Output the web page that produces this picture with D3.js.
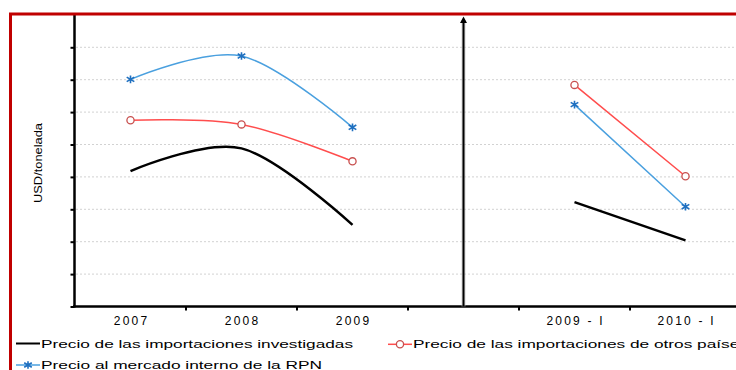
<!DOCTYPE html>
<html>
<head>
<meta charset="utf-8">
<script src="https://cdn.jsdelivr.net/npm/d3@7"></script>
<style>
html,body{margin:0;padding:0;background:#fff;overflow:hidden;}
svg{display:block;font-family:"Liberation Sans",Arial,sans-serif;}
</style>
</head>
<body>
<svg id="chart" width="736" height="370"></svg>
<script>
// ---- data ----
const categories = ["2007", "2008", "2009", "", "2009 - I", "2010 - I"];
const investigadas = [418, 488, 252, null, 322, 204];
const otrosPaises = [575, 562, 448, null, 684, 402];
const mercadoRPN = [701, 773, 553, null, 623, 308];
const yTicks = [0, 100, 200, 300, 400, 500, 600, 700, 800, 900];
const legendLabels = [
  "Precio de las importaciones investigadas",
  "Precio de las importaciones de otros países",
  "Precio al mercado interno de la RPN"
];
const yLabel = "USD/tonelada";

// ---- layout ----
const svg = d3.select("#chart");
const x = d3.scaleBand().domain(categories).range([75, 741]).padding(0);
const y = d3.scaleLinear().domain([0, 900]).range([306.5, 14.9]);
const cx = c => x(c) + x.bandwidth() / 2;

// gridlines
svg.append("g").selectAll("line").data(yTicks.filter(t => t > 0 && t < 900)).join("line")
  .attr("x1", 76).attr("x2", 736)
  .attr("y1", d => y(d)).attr("y2", d => y(d))
  .attr("stroke", "#d2d2d2").attr("stroke-width", 1).attr("stroke-dasharray", "2,2");

// y axis
const yAxis = d3.axisLeft(y).tickValues(yTicks.filter(t => t < 900)).tickSize(4).tickFormat("");
const yg = svg.append("g").attr("transform", "translate(74.5,0)").call(yAxis);
yg.select(".domain").remove();
yg.selectAll(".tick line").attr("stroke", "#000").attr("stroke-width", 2);
svg.append("line").attr("x1", 74.5).attr("x2", 74.5).attr("y1", 15).attr("y2", y(0) + 1)
  .attr("stroke", "#000").attr("stroke-width", 2.5);

// x axis line + ticks at band boundaries
svg.append("line").attr("x1", 73).attr("x2", 736).attr("y1", y(0)).attr("y2", y(0))
  .attr("stroke", "#000").attr("stroke-width", 2.5);
svg.append("g").selectAll("line").data(categories.slice(1)).join("line")
  .attr("x1", d => x(d)).attr("x2", d => x(d))
  .attr("y1", y(0)).attr("y2", y(0) + 4)
  .attr("stroke", "#000").attr("stroke-width", 2);
const xAxis = d3.axisBottom(x).tickSize(0).tickPadding(0);
const xg = svg.append("g").attr("transform", `translate(0,${y(0)})`).call(xAxis);
xg.select(".domain").remove();
xg.selectAll("text").attr("y", 18.5).attr("dy", 0)
  .attr("font-size", "12px").attr("letter-spacing", "2.2px")
  .attr("font-family", "'Liberation Sans',Arial,sans-serif").attr("fill", "#000")
  .attr("dx", "1.1px");

// separator with arrow
const sepX = cx("");
svg.append("line").attr("x1", sepX).attr("x2", sepX).attr("y1", y(0)).attr("y2", 20)
  .attr("stroke", "#bbb").attr("stroke-width", 4).attr("opacity", 0.6);
svg.append("line").attr("x1", sepX).attr("x2", sepX).attr("y1", y(0)).attr("y2", 20)
  .attr("stroke", "#000").attr("stroke-width", 2);
svg.append("path").attr("d", `M${sepX - 3.5},23 L${sepX},16.5 L${sepX + 3.5},23 Z`).attr("fill", "#000");

// y label
svg.append("text").attr("transform", `translate(41.5,163) rotate(-90)`)
  .attr("text-anchor", "middle").attr("font-size", "11.5px")
  .attr("textLength", 80).attr("lengthAdjust", "spacingAndGlyphs")
  .text(yLabel);

// series
const series = [
  { name: legendLabels[0], values: investigadas, color: "#000", width: 2.5, marker: null },
  { name: legendLabels[1], values: otrosPaises, color: "#ff4d4d", width: 1.5, marker: "circle" },
  { name: legendLabels[2], values: mercadoRPN, color: "#4aa0df", width: 1.5, marker: "star" }
];

const line = d3.line()
  .defined(d => d.v != null)
  .x(d => cx(d.c)).y(d => y(d.v))
  .curve(d3.curveCardinal.tension(0));

function drawMarker(g, type, px, py) {
  if (type === "circle") {
    g.append("circle").attr("cx", px).attr("cy", py).attr("r", 3.6)
      .attr("fill", "#fff").attr("stroke", "#c8504f").attr("stroke-width", 1.3);
  } else if (type === "star") {
    const s = 3.8;
    g.append("path")
      .attr("d", `M${px - s},${py - s * 0.6}L${px + s},${py + s * 0.6}M${px - s},${py + s * 0.6}L${px + s},${py - s * 0.6}M${px},${py - s}L${px},${py + s}`)
      .attr("stroke", "#1f70c0").attr("stroke-width", 1.6).attr("fill", "none");
  }
}

series.forEach(s => {
  const pts = categories.map((c, i) => ({ c, v: s.values[i] }));
  svg.append("path").datum(pts)
    .attr("d", line).attr("fill", "none")
    .attr("stroke", s.color).attr("stroke-width", s.width).attr("stroke-linejoin", "round");
  if (s.marker) {
    const mg = svg.append("g");
    pts.filter(p => p.v != null).forEach(p => drawMarker(mg, s.marker, cx(p.c), y(p.v)));
  }
});

// legend
const legendPos = [
  { lx: 16, ly: 343.5, tl: 312 },
  { lx: 388, ly: 344.3, tl: 335 },
  { lx: 16, ly: 365, tl: 281 }
];
series.forEach((s, i) => {
  const p = legendPos[i];
  const g = svg.append("g");
  g.append("line").attr("x1", p.lx).attr("x2", p.lx + 24).attr("y1", p.ly).attr("y2", p.ly)
    .attr("stroke", s.color).attr("stroke-width", i === 0 ? 2 : 1.5);
  if (s.marker) drawMarker(g, s.marker, p.lx + 12, p.ly);
  g.append("text").attr("x", p.lx + 25).attr("y", p.ly + 4)
    .attr("font-size", "11.5px").attr("fill", "#000")
    .attr("textLength", p.tl).attr("lengthAdjust", "spacingAndGlyphs")
    .text(s.name);
});

// red frame
svg.append("path").attr("d", "M10.5,370 V14 H736")
  .attr("fill", "none").attr("stroke", "#c00000").attr("stroke-width", 3);
</script>
</body>
</html>
